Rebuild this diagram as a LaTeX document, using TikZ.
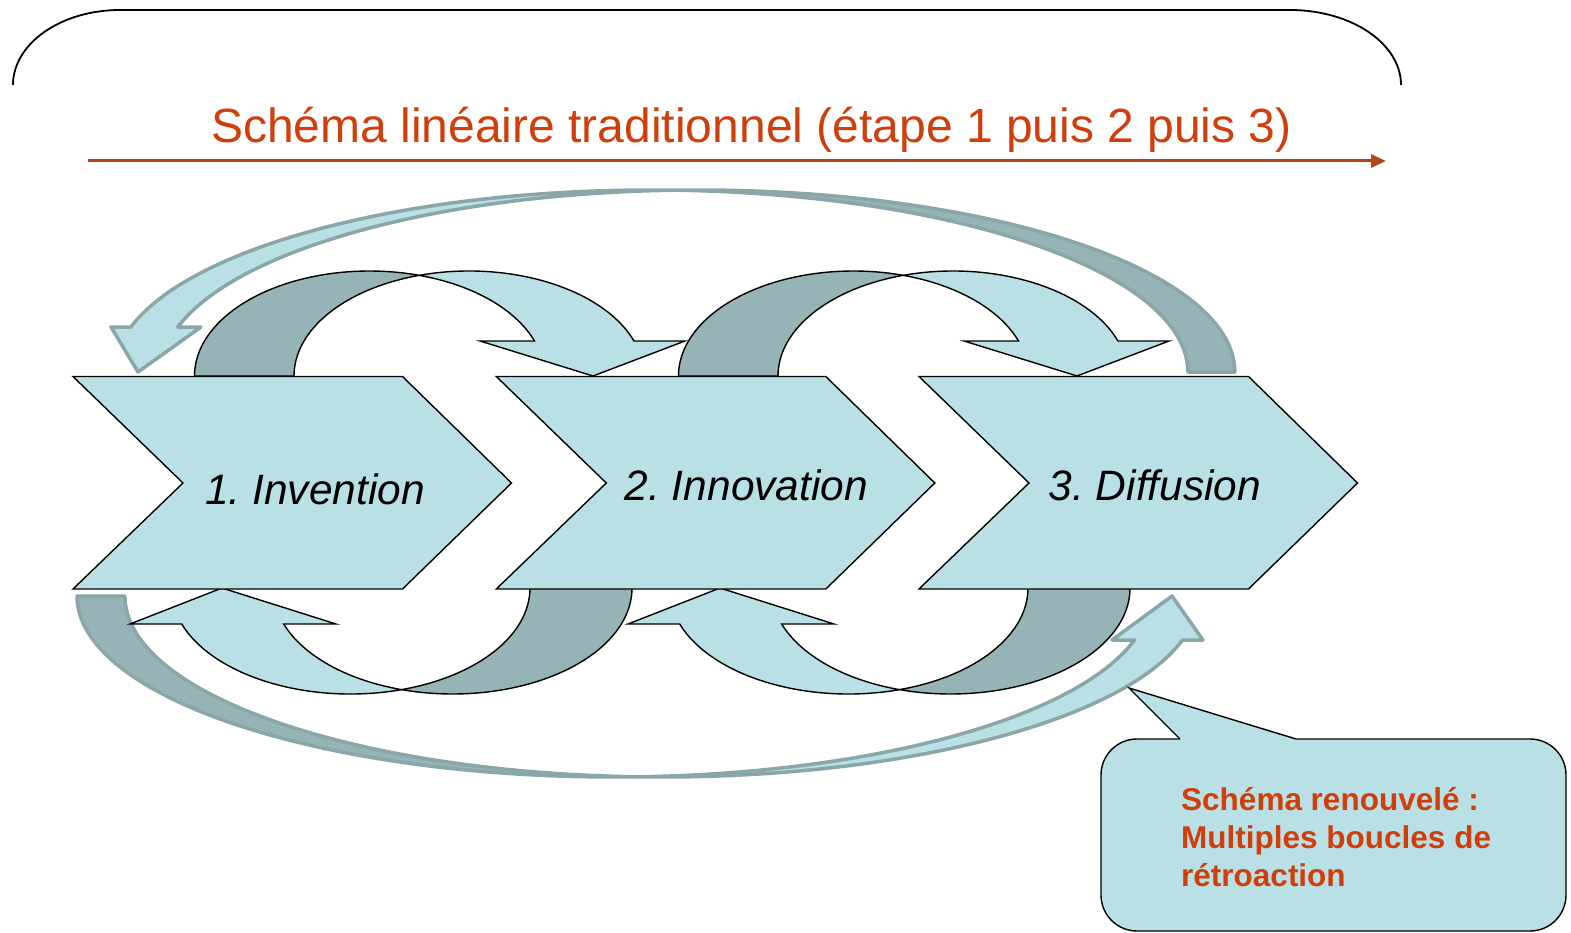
\documentclass[tikz,border=0pt]{standalone}
\usepackage{fontspec}
\setmainfont{Liberation Sans}
\usetikzlibrary{arrows.meta}
\frenchspacing
\definecolor{lightfill}{RGB}{185,224,228}
\definecolor{darkfill}{RGB}{150,179,181}
\definecolor{bigline}{RGB}{138,166,169}
\definecolor{titlecol}{RGB}{208,62,12}
\definecolor{linecol}{RGB}{178,70,24}
\tikzset{
  chev/.style={draw=black, line width=1.4pt, fill=lightfill, line join=miter},
  loopdark/.style={draw=black, line width=1.4pt, fill=darkfill, line join=miter},
  looplight/.style={draw=black, line width=1.4pt, fill=lightfill, line join=miter},
  bigdark/.style={draw=bigline, line width=3.5pt, fill=darkfill, line join=round},
  biglight/.style={draw=bigline, line width=3.5pt, fill=lightfill, line join=round},
  steplabel/.style={font=\fontsize{42.5}{50}\selectfont\itshape, anchor=base west, inner sep=0pt, text=black},
  notelabel/.style={font=\fontsize{31.5}{38}\selectfont\bfseries, anchor=base west, inner sep=0pt, text=titlecol},
  bracketline/.style={draw=black, line width=1.8pt},
  linarrow/.style={draw=linecol, line width=3pt, -{Triangle[length=15pt,width=13pt]}},
  callout/.style={draw=black, line width=1.4pt, fill=lightfill, rounded corners=36pt},
  pointeredge/.style={draw=black, line width=1.4pt, line join=miter}
}
\newcommand\ChevShape{%
  \path[chev] (73,-376.5) -- (402.5,-376.5) -- (511.5,-483) -- (402.5,-589) -- (73,-589) -- (183,-483) -- cycle;}
\newcommand\TopLoop{%
  \path[loopdark] ([shift={(369.5,-376)}]180:175 and 105)
    arc[start angle=180, end angle=73.48, x radius=175, y radius=105]
    arc[start angle=106.52, end angle=180, x radius=175, y radius=105] -- cycle;
  \path[looplight] ([shift={(369.5,-376)}]73.48:175 and 105)
    arc[start angle=73.48, end angle=19.47, x radius=175, y radius=105]
    -- (480,-341) -- (593,-376) -- (685,-341)
    -- ([shift={(469,-376)}]19.47:175 and 105)
    arc[start angle=19.47, end angle=106.52, x radius=175, y radius=105] -- cycle;}
\newcommand\BottomLoop{%
  \path[loopdark] ([shift={(452.5,-588)}]0:179.5 and 106)
    arc[start angle=0, end angle=-106.51, x radius=179.5, y radius=106]
    arc[start angle=-73.49, end angle=0, x radius=179.5, y radius=106] -- cycle;
  \path[looplight] ([shift={(452.5,-588)}]-106.51:179.5 and 106)
    arc[start angle=-106.51, end angle=-160.15, x radius=179.5, y radius=106]
    -- (336,-624) -- (222,-588) -- (130,-624)
    -- ([shift={(350.5,-588)}]-160.15:179.5 and 106)
    arc[start angle=-160.15, end angle=-73.49, x radius=179.5, y radius=106] -- cycle;}
\begin{document}
\begin{tikzpicture}[x=1pt, y=1pt]
\useasboundingbox (0,0) rectangle (1571,-933);

% top bracket
\draw[bracketline] (13,-85) arc[start angle=180, end angle=90, x radius=107, y radius=75]
  -- (1290,-10) arc[start angle=90, end angle=0, x radius=111, y radius=75];

% title and linear arrow
\node[font=\fontsize{48}{56}\selectfont, text=titlecol, anchor=base, inner sep=0pt] (title) at (751.5,-143)
  {Schéma linéaire traditionnel (étape 1 puis 2 puis 3)};
\coordinate (linstart) at (88,-161);
\coordinate (linend) at (1386,-161);
\draw[linarrow] (linstart) -- (linend);

% big top feedback arrow
\path[bigdark] ([shift={(698,-372)}]0:536.8 and 182)
  arc[start angle=0, end angle=92.51, x radius=536.8, y radius=182]
  arc[start angle=87.49, end angle=0, x radius=536.8, y radius=182] -- cycle;
\path[biglight] ([shift={(698,-372)}]92.51:536.8 and 182)
  arc[start angle=92.51, end angle=165.685, x radius=536.8, y radius=182]
  -- (201,-327) -- (138,-372) -- (111,-327)
  -- ([shift={(651,-372)}]165.685:536.8 and 182)
  arc[start angle=165.685, end angle=87.49, x radius=536.8, y radius=182] -- cycle;

% big bottom feedback arrow
\path[bigdark] ([shift={(613.8,-596)}]180:536.8 and 181)
  arc[start angle=180, end angle=272.56, x radius=536.8, y radius=181]
  arc[start angle=267.44, end angle=180, x radius=536.8, y radius=181] -- cycle;
\path[biglight] ([shift={(613.8,-596)}]272.56:536.8 and 181)
  arc[start angle=272.56, end angle=345.93, x radius=536.8, y radius=181]
  -- (1112,-640) -- (1172,-596) -- (1203,-640)
  -- ([shift={(661.8,-596)}]345.93:536.8 and 181)
  arc[start angle=345.93, end angle=267.44, x radius=536.8, y radius=181] -- cycle;

% small loops
\TopLoop
\begin{scope}[xshift=484pt]\TopLoop\end{scope}
\BottomLoop
\begin{scope}[xshift=498pt]\BottomLoop\end{scope}

% chevrons
\ChevShape
\begin{scope}[xshift=423.3pt]\ChevShape\end{scope}
\begin{scope}[xshift=846pt]\ChevShape\end{scope}
\node[steplabel] (invention) at (205,-504) {1. Invention};
\node[steplabel] (innovation) at (624.5,-500) {2. Innovation};
\node[steplabel] (diffusion) at (1048.5,-500) {3. Diffusion};

% callout
\path[callout] (1101,-739) rectangle (1566,-931);
\fill[lightfill] (1180,-738) -- (1129,-688) -- (1296,-738) -- (1296,-741.5) -- (1180,-741.5) -- cycle;
\path[pointeredge] (1180,-739) -- (1129,-688) -- (1296,-739);
\node[notelabel] (note1) at (1181,-810) {Schéma renouvelé :};
\node[notelabel] (note2) at (1181,-848) {Multiples boucles de};
\node[notelabel] (note3) at (1181,-886) {rétroaction};
\end{tikzpicture}
\end{document}
